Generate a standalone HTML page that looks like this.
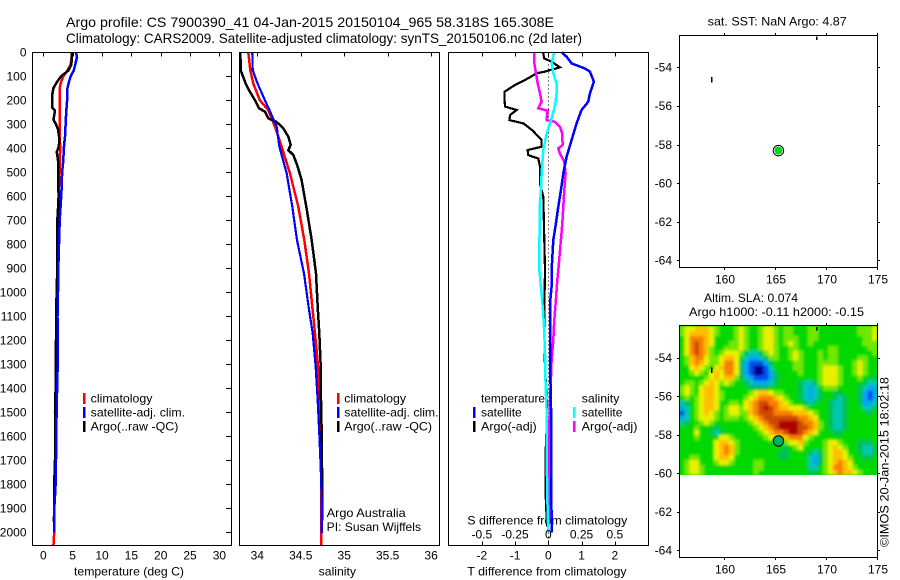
<!DOCTYPE html>
<html>
<head>
<meta charset="utf-8">
<title>Argo profile</title>
<style>
html,body{margin:0;padding:0;background:#fff;}
svg{display:block;}
text{font-family:"Liberation Sans",sans-serif;font-size:12px;fill:#000;}
</style>
</head>
<body>
<svg id="chart" xmlns="http://www.w3.org/2000/svg" width="900" height="580" viewBox="0 0 900 580">
<defs>
<filter id="sla-soften" x="-5%" y="-5%" width="110%" height="110%"><feGaussianBlur stdDeviation="1.2"/></filter>
<clipPath id="sla-clip"><rect x="680" y="326" width="197" height="149"/></clipPath>
</defs>
<text x="66" y="27" style="font-size:14px" textLength="488" lengthAdjust="spacingAndGlyphs">Argo profile: CS 7900390_41 04-Jan-2015 20150104_965 58.318S 165.308E</text>
<text x="66" y="43" style="font-size:14px" textLength="516" lengthAdjust="spacingAndGlyphs">Climatology: CARS2009. Satellite-adjusted climatology: synTS_20150106.nc (2d later)</text>
<text x="74" y="575.5" textLength="110" lengthAdjust="spacingAndGlyphs">temperature (deg C)</text>
<text x="318.7" y="575.5" textLength="37.3" lengthAdjust="spacingAndGlyphs">salinity</text>
<text x="467.3" y="575.5" textLength="159.3" lengthAdjust="spacingAndGlyphs">T difference from climatology</text>
<text x="467.3" y="524.5" textLength="160" lengthAdjust="spacingAndGlyphs">S difference from climatology</text>
<text x="326.7" y="517" textLength="79" lengthAdjust="spacingAndGlyphs">Argo Australia</text>
<text x="326.7" y="531" textLength="94.3" lengthAdjust="spacingAndGlyphs">PI: Susan Wijffels</text>
<text x="707.7" y="25.5" textLength="139" lengthAdjust="spacingAndGlyphs">sat. SST: NaN Argo: 4.87</text>
<text x="704" y="302" textLength="94" lengthAdjust="spacingAndGlyphs">Altim. SLA: 0.074</text>
<text x="689" y="316" textLength="175" lengthAdjust="spacingAndGlyphs">Argo h1000: -0.11 h2000: -0.15</text>
<text transform="translate(888.5,547) rotate(-90)" textLength="170" lengthAdjust="spacingAndGlyphs">©IMOS 20-Jan-2015 18:02:18</text>
</svg>
<script>
// ---- profile data: depth (m) and value pairs ----
const tempClimDepth = [0,50,75,100,125,150,200,300,400,500,600,700,800,1000,1200,1400,1600,1800,2000,2055];
const tempClim = [4.9,4.66,4.1,3.4,3.0,2.77,2.8,2.8,2.87,2.77,2.6,2.5,2.5,2.38,2.27,2.16,2.05,1.95,1.85,1.72];
const tempArgoDepth = [0,50,75,100,125,150,175,200,230,240,250,280,300,320,350,380,400,415,430,450,500,600,650,700,800,900,1000,1100,1200,1300,1400,1500,1600,1700,1800,1900,1955];
const tempArgo = [4.89,4.78,4.3,3.0,2.28,1.7,1.54,1.5,1.54,1.94,1.94,1.73,2.16,2.5,2.67,2.7,2.55,2.27,2.38,2.5,2.5,2.6,2.5,2.38,2.38,2.38,2.27,2.2,2.16,2.13,2.1,2.0,2.0,2.0,1.85,1.85,1.8];
const tempSatDepth = [0,20,50,75,100,125,150,200,250,300,350,400,450,500,550,600,700,800,900,1000,1100,1200,1300,1400,1500,1600,1700,1800,1900,2000];
const tempSat = [5.57,5.74,5.45,5.2,4.65,4.35,4.1,4.05,3.9,3.8,3.7,3.5,3.4,3.2,3.15,3.05,2.8,2.67,2.55,2.5,2.42,2.45,2.45,2.35,2.27,2.2,2.16,2.1,1.88,1.88];

const salClimDepth = [0,74,130,200,240,310,393,504,643,782,921,1060,1171,1310,1449,1588,1727,2005,2055];
const salClim = [33.897,33.92,33.954,34.03,34.127,34.204,34.28,34.376,34.472,34.541,34.595,34.633,34.664,34.70,34.714,34.725,34.733,34.733,34.737];
const salArgoDepth = [0,74,130,157,200,233,247,275,290,317,351,386,407,428,476,532,643,782,921,1060,1171,1310,1449,1588,1727,1852,1950];
const salArgo = [33.805,33.809,33.866,33.905,33.974,34.02,34.089,34.127,34.223,34.30,34.357,34.384,34.357,34.415,34.465,34.51,34.564,34.626,34.676,34.695,34.714,34.73,34.733,34.741,34.745,34.749,34.749];
const salSatDepth = [0,74,130,200,240,310,393,504,643,782,921,1060,1171,1310,1449,1588,1727,1866,2005];
const salSat = [33.943,33.947,34.004,34.089,34.139,34.223,34.254,34.338,34.403,34.457,34.537,34.59,34.637,34.672,34.695,34.714,34.73,34.741,34.741];

const diffTArgoDepth = [0,25,39,62,80,87,115,136,164,192,226,240,261,282,296,324,365,393,407,428,442,476,546,601,907,1004,1143,1269,1476,1518,1670,1837,1976];
const diffTArgo = [-0.16,-0.12,0.10,0.35,-0.10,-0.35,-0.70,-1.00,-1.32,-1.32,-1.30,-0.95,-1.15,-1.17,-0.75,-0.48,-0.20,-0.20,-0.62,-0.60,-0.30,-0.25,-0.25,-0.15,-0.10,-0.11,-0.12,-0.11,-0.04,-0.04,-0.08,-0.08,-0.04];
const diffTSatDepth = [0,18,46,67,80,122,171,206,240,296,365,435,504,574,643,713,782,907,976,1046,1282,1476,1700,2000];
const diffTSat = [0.40,0.55,0.70,1.10,1.25,1.37,1.25,1.20,1.00,0.85,0.70,0.55,0.45,0.38,0.30,0.23,0.15,0.10,0.10,0.05,0.05,0.08,0.09,0.10];
const diffSSatDepth = [0,46,87,129,171,226,282,338,407,504,574,643,907,934,1004,1074,1143,1254,1393,1490,1629,1768,1907,2000];
const diffSSat = [0.0425,0.025,0.0375,0.0625,0.0625,0.05,0.02,-0.0125,-0.0375,-0.05,-0.055,-0.065,-0.0675,-0.0625,-0.05,-0.04,-0.0325,-0.025,-0.02,-0.0125,-0.0125,-0.01,-0.005,0];
const diffSArgoDepth = [0,46,87,129,171,206,233,243,282,289,310,338,386,400,421,456,504,574,643,713,782,907,948,1032,1115,1198,1282,1351,1448,1560,1698,1950];
const diffSArgo = [-0.105,-0.105,-0.0925,-0.08,-0.0625,-0.05,-0.075,-0.005,-0.0125,0.05,0.0875,0.105,0.1075,0.075,0.0875,0.12,0.13,0.12,0.1125,0.105,0.095,0.075,0.0675,0.0575,0.045,0.0375,0.025,0.02,0.0125,0.0075,0.0075,0.005];

// ---- tick labels ----
const depthTicks = [0,100,200,300,400,500,600,700,800,900,1000,1100,1200,1300,1400,1500,1600,1700,1800,1900,2000];
const tempTicks = [0,5,10,15,20,25,30];
const salTicks = [34,34.5,35,35.5,36];
const diffTTicks = [-2,-1,0,1,2];
const diffSTicks = [-0.5,-0.25,0,0.25,0.5];
const lonTicks = [160,165,170,175];
const latTicks = [-54,-56,-58,-60,-62,-64];

// ---- map data ----
const floatLon = 165.308;
const floatLat = -58.318;
const speckLons = [158.8,169.1];
const speckLats = [-54.6,-52.5];
const slaLon0 = 155.6;
const slaLonStep = 0.485;
const slaLat0 = -52.35;
const slaLatStep = 0.2577;
const slaLevels = [
[6,7,7,8,8,8,7,6,5,5,5,6,7,6,5,5,6,7,7,6,5,6,6,5,5,5,6,6,5,5,5,5,5,5,5,5,6,6,6,7],
[6,7,8,8,8,8,7,6,5,5,5,6,7,6,5,5,6,7,7,6,5,6,6,5,5,5,6,6,5,5,5,5,5,5,5,5,6,6,6,7],
[5,7,9,9,9,8,7,5,5,5,5,6,7,6,5,5,6,7,7,6,5,6,6,6,5,5,6,6,5,5,5,5,5,5,5,5,5,6,6,7],
[5,7,9,10,9,8,7,5,5,5,6,6,7,6,5,5,6,7,7,6,5,6,7,6,5,5,6,5,5,5,5,5,5,5,5,5,5,6,6,6],
[5,7,9,10,9,8,6,5,5,6,6,6,7,6,5,5,6,7,7,6,5,5,6,6,5,5,5,5,5,5,6,6,5,5,5,5,5,5,6,6],
[5,7,9,10,9,8,6,5,6,7,7,7,6,4,3,3,4,6,7,6,5,5,6,7,6,5,5,5,6,5,6,6,5,5,5,5,5,5,5,6],
[5,6,8,9,9,7,6,6,7,8,8,7,5,3,2,2,3,4,6,6,5,5,6,7,6,5,5,5,6,5,6,6,5,5,5,5,6,6,5,5],
[5,6,8,9,8,7,6,6,7,9,9,7,4,2,1,1,1,2,4,5,5,5,5,6,6,5,5,5,6,6,6,6,5,5,5,6,7,6,5,5],
[5,5,7,8,7,6,5,7,8,9,9,7,4,2,1,0,0,1,3,5,5,5,5,6,6,5,5,5,6,7,7,7,6,5,5,6,7,6,5,5],
[5,5,6,7,6,5,7,8,7,9,9,7,4,2,1,0,0,1,2,4,5,5,5,5,6,5,5,5,6,7,7,7,6,5,5,6,7,6,5,5],
[5,5,5,5,5,6,7,8,7,8,8,6,4,3,2,1,1,1,2,4,5,5,5,5,5,5,5,5,6,7,7,7,6,5,5,5,6,5,5,4],
[5,6,6,5,6,7,8,7,6,7,6,5,5,4,3,2,2,2,3,4,5,5,5,5,4,3,3,4,6,7,7,7,6,5,5,5,5,4,3,3],
[6,7,6,5,7,8,8,7,5,5,5,5,5,5,4,4,4,4,5,5,5,5,5,5,4,3,2,3,5,6,6,6,5,5,5,5,4,3,2,2],
[6,7,6,5,7,8,8,7,6,5,5,5,5,5,6,7,8,8,7,6,6,5,5,5,4,3,2,3,4,5,5,4,4,5,5,5,4,2,1,2],
[5,6,5,6,7,8,8,7,6,5,5,5,5,6,7,8,9,9,9,8,7,6,5,5,4,3,2,3,4,5,5,4,3,4,5,5,4,2,1,2],
[3,4,5,6,7,8,8,7,5,5,6,6,5,7,8,9,10,10,9,9,8,7,6,5,5,4,3,4,5,5,4,3,3,4,5,5,4,2,2,3],
[2,3,5,6,7,8,8,7,5,6,7,7,6,7,8,9,10,11,10,9,8,8,7,7,7,6,5,5,5,5,4,3,3,4,5,5,5,3,3,4],
[1,3,5,6,7,8,7,6,5,6,7,7,6,6,8,9,10,10,10,9,9,9,9,8,8,8,7,6,5,5,4,3,3,4,5,5,5,5,4,5],
[2,3,5,6,7,7,7,6,5,6,6,6,5,6,7,8,9,10,10,10,10,10,10,10,9,9,8,7,5,5,4,3,3,4,5,5,5,5,5,5],
[3,4,5,5,6,7,6,5,5,5,5,5,5,5,6,7,8,9,10,10,11,11,11,11,10,9,9,8,6,5,4,3,3,4,5,5,5,5,5,5],
[5,5,5,6,5,5,5,4,5,5,5,5,5,5,5,6,7,8,9,10,11,11,11,11,10,10,9,8,6,5,4,3,3,4,5,5,5,5,5,5],
[5,5,5,7,5,5,4,3,4,5,5,5,5,5,5,5,6,7,8,9,9,10,11,11,10,9,8,7,5,5,5,4,4,5,5,5,5,5,5,5],
[5,5,5,6,5,5,5,5,7,7,6,5,5,5,5,5,5,6,7,7,8,8,9,9,9,7,6,5,5,5,5,5,5,5,5,5,5,5,5,5],
[5,5,5,5,5,5,5,7,8,8,7,6,5,5,5,5,5,5,5,5,5,6,7,7,8,6,5,5,5,6,7,7,6,5,5,5,4,4,4,5],
[5,5,5,5,5,5,5,7,8,9,8,6,5,5,5,5,5,5,5,5,5,4,5,6,7,5,5,5,5,6,7,8,7,6,5,5,4,3,3,4],
[5,5,5,5,5,5,5,7,8,9,8,6,5,5,5,5,5,5,5,5,4,4,5,5,5,5,4,3,4,6,7,8,8,7,5,5,4,3,3,4],
[5,5,6,6,5,5,5,7,8,8,7,5,5,5,5,5,5,5,5,5,4,4,5,5,5,5,3,2,4,6,7,8,8,7,6,5,5,4,4,5],
[5,6,7,7,5,5,5,6,7,7,6,5,5,5,5,6,6,5,5,5,5,5,5,5,5,5,3,2,4,6,7,8,9,8,7,5,5,5,5,5],
[5,6,7,7,6,5,5,5,5,5,5,5,5,5,5,6,6,5,5,5,5,5,5,5,5,5,3,3,5,6,7,9,9,8,7,6,5,5,5,5],
[5,6,7,7,6,5,5,5,5,5,5,5,5,5,5,6,5,5,5,5,5,5,5,5,5,5,4,4,5,6,7,8,9,8,8,7,6,5,5,5]
];
const slaPalette = ['#000090','#0050f0','#00a8f0','#00c8b0','#00c050','#00d800','#70e800','#e8f000','#ffc000','#f88000','#d04800','#b00000'];

// ---- axis functions ----
const depthY = d => 52.4 + d * 0.24;
const tempX = v => 43.3 + v * 5.87;
const salX = v => 257.3 + (v - 34) * 86.9;
const diffX = v => 548.3 + v * 33.25;
const diffSX = v => diffX(v * 4);
const lonX = v => 724.3 + (v - 160) * 10.2;
const lat1Y = v => 67.3 + (-54 - v) * 19.3;
const lat2Y = v => 357.7 + (-54 - v) * 19.27;

const svg = document.getElementById('chart');
const NS = 'http://www.w3.org/2000/svg';
function add(tag, name, attrs) {
  const el = document.createElementNS(NS, tag);
  
  
  for (const k in attrs) el.setAttribute(k, attrs[k]);
  svg.appendChild(el);
  return el;
}
function hline(name, x1, y1, x2, y2, color, w) {
  add('line', name, {x1: x1, y1: y1, x2: x2, y2: y2, stroke: color || '#000', 'stroke-width': w || 1, 'shape-rendering': 'crispEdges'});
}
function label(name, x, y, s, anchor, len) {
  const t = add('text', name, {x: x, y: y, 'text-anchor': anchor || 'middle'});
  if (len) {
    t.setAttribute('textLength', len);
    t.setAttribute('lengthAdjust', 'spacingAndGlyphs');
  }
  t.textContent = s;
}
function series(name, depths, vals, xf, color, w) {
  const pts = depths.map((d, i) => xf(vals[i]).toFixed(1) + ',' + depthY(d).toFixed(1)).join(' ');
  add('polyline', name, {points: pts, fill: 'none', stroke: color, 'stroke-width': w, 'stroke-linejoin': 'miter', 'shape-rendering': 'crispEdges'});
}
function frame(name, l, t, r, b) {
  add('rect', name, {x: l, y: t, width: r - l, height: b - t, fill: 'none', stroke: '#000', 'stroke-width': 1, 'shape-rendering': 'crispEdges'});
}
function legendBar(name, x, y, color) {
  add('rect', name, {x: x, y: y, width: 2.5, height: 11, fill: color, 'shape-rendering': 'crispEdges'});
}

const TOP = 52.5, BOT = 545.5;

// ---- panel 1: temperature ----
series('temperature-climatology-line', tempClimDepth, tempClim, tempX, '#ff0000', 2.5);
series('temperature-argo-line', tempArgoDepth, tempArgo, tempX, '#000000', 2.5);
series('temperature-satellite-line', tempSatDepth, tempSat, tempX, '#0000ff', 2.5);
frame('temperature-plot-frame', 32.5, TOP, 231.5, BOT);
depthTicks.forEach(d => {
  const y = Math.round(depthY(d)) + 0.5;
  if (d > 0) hline('depth-tick', 226, y, 231, y);
  label('depth-tick-label', 26.5, depthY(d) + 4.3, String(d), 'end');
});
tempTicks.forEach(v => {
  const x = Math.round(tempX(v)) + 0.5;
  hline('temperature-tick', x, TOP, x, TOP + 4);
  label('temperature-tick-label', tempX(v), 559.5, String(v));
});

// ---- panel 2: salinity ----
series('salinity-climatology-line', salClimDepth, salClim, salX, '#ff0000', 2.5);
series('salinity-argo-line', salArgoDepth, salArgo, salX, '#000000', 2.5);
series('salinity-satellite-line', salSatDepth, salSat, salX, '#0000ff', 2.2);
frame('salinity-plot-frame', 239.5, TOP, 439.5, BOT);
salTicks.forEach(v => {
  const x = Math.round(salX(v)) + 0.5;
  hline('salinity-tick', x, TOP, x, TOP + 4);
  label('salinity-tick-label', salX(v), 559.5, String(v));
});

// ---- panel 3: differences ----
add('line', 'zero-difference-dotted-line', {x1: 548.5, y1: TOP, x2: 548.5, y2: BOT, stroke: '#000', 'stroke-width': 1, 'stroke-dasharray': '1 3', 'shape-rendering': 'crispEdges'});
series('t-difference-argo-line', diffTArgoDepth, diffTArgo, diffX, '#000000', 2.2);
series('s-difference-argo-line', diffSArgoDepth, diffSArgo, diffSX, '#ff00ff', 2.5);
series('t-difference-satellite-line', diffTSatDepth, diffTSat, diffX, '#0000ff', 2.5);
series('s-difference-satellite-line', diffSSatDepth, diffSSat, diffSX, '#00ffff', 2.5);
frame('difference-plot-frame', 448.5, TOP, 648.5, BOT);
diffTTicks.forEach(v => {
  const x = Math.round(diffX(v)) + 0.5;
  hline('difference-top-tick', x, TOP, x, TOP + 4);
  hline('difference-bottom-tick', x, BOT - 4, x, BOT);
  label('t-difference-tick-label', diffX(v), 559.5, String(v));
});
diffSTicks.forEach(v => {
  label('s-difference-tick-label', diffSX(v), 538.5, String(v));
});

// ---- legends ----
legendBar('legend-climatology-swatch', 83, 393, '#ff0000');
legendBar('legend-satellite-swatch', 83, 407, '#0000ff');
legendBar('legend-argo-swatch', 83, 421, '#000000');
label('legend-climatology', 90.7, 402.3, 'climatology', 'start', 61.7);
label('legend-satellite', 90.7, 416.3, 'satellite-adj. clim.', 'start', 94.3);
label('legend-argo', 90.7, 430.3, 'Argo(..raw -QC)', 'start', 87.7);

legendBar('salinity-legend-climatology-swatch', 337, 393, '#ff0000');
legendBar('salinity-legend-satellite-swatch', 337, 407, '#0000ff');
legendBar('salinity-legend-argo-swatch', 337, 421, '#000000');
label('salinity-legend-climatology', 344.3, 402.3, 'climatology', 'start', 61.7);
label('salinity-legend-satellite', 344.3, 416.3, 'satellite-adj. clim.', 'start', 94.3);
label('salinity-legend-argo', 344.3, 430.3, 'Argo(..raw -QC)', 'start', 87.7);

label('difference-legend-temperature-heading', 481, 402.3, 'temperature', 'start', 64);
label('difference-legend-salinity-heading', 581.7, 402.3, 'salinity', 'start', 37.7);
legendBar('difference-legend-t-satellite-swatch', 473, 407, '#0000ff');
legendBar('difference-legend-t-argo-swatch', 473, 421, '#000000');
legendBar('difference-legend-s-satellite-swatch', 573, 407, '#00ffff');
legendBar('difference-legend-s-argo-swatch', 573, 421, '#ff00ff');
label('difference-legend-t-satellite', 481, 416.3, 'satellite', 'start', 40.7);
label('difference-legend-t-argo', 481, 430.3, 'Argo(-adj)', 'start', 55.7);
label('difference-legend-s-satellite', 581.7, 416.3, 'satellite', 'start', 40.7);
label('difference-legend-s-argo', 581.7, 430.3, 'Argo(-adj)', 'start', 55.7);

// ---- maps ----
const MAP_L = 679.5, MAP_R = 877.5;
function mapAxes(prefix, top, bottom, latY, lonLabelY) {
  frame(prefix + '-map-frame', MAP_L, top, MAP_R, bottom);
  lonTicks.forEach(v => {
    const x = Math.round(lonX(v)) + 0.5;
    hline(prefix + '-lon-tick-top', x, top - 2.5, x, top);
    hline(prefix + '-lon-tick-bottom', x, bottom, x, bottom + 2.5);
    label(prefix + '-lon-tick-label', lonX(v) + 0.7, lonLabelY, String(v));
  });
  latTicks.forEach(v => {
    const y = Math.round(latY(v)) + 0.5;
    hline(prefix + '-lat-tick-left', MAP_L - 2.5, y, MAP_L, y);
    hline(prefix + '-lat-tick-right', MAP_R, y, MAP_R + 2.5, y);
    label(prefix + '-lat-tick-label', 672, latY(v) + 4.3, String(v), 'end');
  });
}
function specks(prefix, latY) {
  speckLons.forEach((lon, i) => {
    add('rect', prefix + '-island-speck', {x: lonX(lon) - 1, y: latY(speckLats[i]) - 2, width: 1.5, height: 3.5 + (i === 0 ? 2 : 0), fill: '#000', 'shape-rendering': 'crispEdges'});
  });
}

// SST map
specks('sst', lat1Y);
mapAxes('sst', 35.5, 267.5, lat1Y, 283.5);
add('circle', 'sst-float-position-ring', {cx: lonX(floatLon), cy: lat1Y(floatLat), r: 5.2, fill: '#fff', stroke: '#000', 'stroke-width': 1});
add('circle', 'sst-float-position-marker', {cx: lonX(floatLon), cy: lat1Y(floatLat), r: 4, fill: '#00d820'});

// SLA map heatmap
const slaClip = add('g', 'sla-heatmap-clip', {'clip-path': 'url(#sla-clip)'});
const slaBase = add('rect', 'sla-heatmap-background', {x: 680, y: 326, width: 197, height: 149, fill: '#00d800'});
slaClip.appendChild(slaBase);
const slaGroup = add('g', 'sla-heatmap', {filter: 'url(#sla-soften)'});
slaClip.appendChild(slaGroup);
slaLevels.forEach((row, r) => {
  row.forEach((lvl, c) => {
    const x0 = lonX(slaLon0 + c * slaLonStep);
    const x1 = lonX(slaLon0 + (c + 1) * slaLonStep);
    const y0 = lat2Y(slaLat0 - r * slaLatStep);
    const y1 = lat2Y(slaLat0 - (r + 1) * slaLatStep);
    const cell = add('rect', 'sla-heatmap-cell', {x: x0.toFixed(2), y: y0.toFixed(2), width: (x1 - x0 + 0.3).toFixed(2), height: (y1 - y0 + 0.3).toFixed(2), fill: slaPalette[lvl], 'shape-rendering': 'crispEdges'});
    slaGroup.appendChild(cell);
  });
});
specks('sla', lat2Y);
mapAxes('sla', 325.5, 557.5, lat2Y, 573.5);
add('circle', 'sla-float-position-marker', {cx: lonX(floatLon), cy: lat2Y(floatLat), r: 5.2, fill: '#00b060', stroke: '#000', 'stroke-width': 1});
</script>
</body>
</html>
